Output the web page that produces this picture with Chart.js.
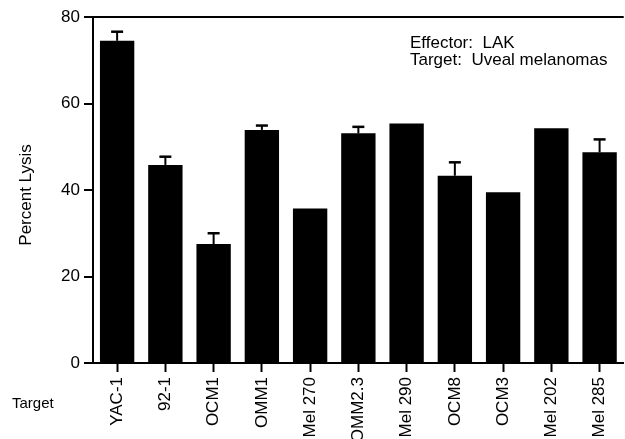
<!DOCTYPE html>
<html>
<head>
<meta charset="utf-8">
<script src="https://cdn.jsdelivr.net/npm/chart.js@4"></script>
<style>
  html, body { margin: 0; padding: 0; background: #fff; overflow: hidden; }
  #wrap { width: 625px; height: 439px; overflow: hidden; }
</style>
</head>
<body>
<div id="wrap"><canvas id="lysis-chart" width="625" height="439"></canvas></div>
<script>
// Target cell lines and mean percent lysis
const targets = ['YAC-1', '92-1', 'OCM1', 'OMM1', 'Mel 270', 'OMM2.3', 'Mel 290', 'OCM8', 'OCM3', 'Mel 202', 'Mel 285'];
const lysis = [74.5, 45.8, 27.5, 53.9, 35.7, 53.1, 55.4, 43.3, 39.5, 54.3, 48.7];
// Upper error (SD); null where no error bar is shown
const lysisErr = [2.1, 1.9, 2.5, 1.0, null, 1.5, null, 3.1, null, null, 3.0];
const yTicks = [0, 20, 40, 60, 80];
const noteLines = ['Effector:  LAK', 'Target:  Uveal melanomas'];

const FONT = "'Liberation Sans', Arial, Helvetica, sans-serif";
Chart.defaults.font.family = FONT;
Chart.defaults.font.size = 17;
Chart.defaults.color = '#000';

// Draw upper error bars (T shapes) on top of each bar
const errorBarPlugin = {
    id: 'errorBars',
    afterDatasetsDraw(chart) {
        const ctx = chart.ctx;
        const yScale = chart.scales.y;
        const meta = chart.getDatasetMeta(0);
        ctx.save();
        ctx.strokeStyle = '#000';
        meta.data.forEach((bar, i) => {
            const err = lysisErr[i];
            if (err == null) return;
            const yTop = yScale.getPixelForValue(lysis[i] + err);
            ctx.lineWidth = 2;
            ctx.beginPath();
            ctx.moveTo(bar.x, bar.y);
            ctx.lineTo(bar.x, yTop);
            ctx.stroke();
            ctx.lineWidth = 2.5;
            ctx.beginPath();
            ctx.moveTo(bar.x - 6, yTop);
            ctx.lineTo(bar.x + 6, yTop);
            ctx.stroke();
        });
        ctx.restore();
    }
};

// Annotation text: note in the top right, axis titles at the left
const textPlugin = {
    id: 'notes',
    afterDraw(chart) {
        const ctx = chart.ctx;
        ctx.save();
        ctx.fillStyle = '#000';
        ctx.textBaseline = 'alphabetic';
        ctx.textAlign = 'left';
        ctx.font = '17px ' + FONT;
        noteLines.forEach((line, i) => {
            ctx.fillText(line, 410, 48 + i * 17);
        });
        ctx.font = '15px ' + FONT;
        ctx.fillText('Target', 12, 408);

        // y axis title, rotated
        ctx.font = '17px ' + FONT;
        ctx.translate(31, 195);
        ctx.rotate(-Math.PI / 2);
        ctx.textAlign = 'center';
        ctx.fillText('Percent Lysis', 0, 0);
        ctx.restore();
    }
};

const ctx = document.getElementById('lysis-chart').getContext('2d');
const chart = new Chart(ctx, {
    type: 'bar',
    data: {
        labels: targets,
        datasets: [{
            label: 'Percent Lysis',
            data: lysis,
            backgroundColor: '#000',
            borderWidth: 0,
            barPercentage: 0.8,
            categoryPercentage: 0.89
        }]
    },
    options: {
        responsive: false,
        animation: false,
        devicePixelRatio: 1,
        layout: {
            padding: { top: 17, right: 0, left: 0, bottom: 0 }
        },
        scales: {
            x: {
                offset: true,
                afterFit: function(scale) { scale.height = 76; },
                grid: {
                    offset: false,
                    drawOnChartArea: false,
                    drawTicks: true,
                    tickLength: 9,
                    tickColor: '#000',
                    tickWidth: 2
                },
                border: { color: '#000', width: 2 },
                ticks: {
                    autoSkip: false,
                    minRotation: 90,
                    maxRotation: 90,
                    padding: 5,
                    color: '#000',
                    font: { size: 17 }
                }
            },
            y: {
                min: 0,
                max: 80,
                afterFit: function(scale) { scale.width = 93; },
                afterBuildTicks: function(scale) {
                    scale.ticks = yTicks.map(v => ({ value: v }));
                },
                grid: {
                    drawOnChartArea: true,
                    color: function(c) { return c.tick && c.tick.value === 80 ? '#000' : 'rgba(0,0,0,0)'; },
                    lineWidth: 2,
                    tickColor: '#000',
                    tickWidth: 2,
                    tickLength: 9
                },
                border: { color: '#000', width: 2 },
                ticks: {
                    padding: 4,
                    color: '#000',
                    font: { size: 17 }
                }
            }
        },
        plugins: {
            legend: { display: false },
            tooltip: { enabled: false }
        }
    },
    plugins: [errorBarPlugin, textPlugin]
});
</script>
</body>
</html>
